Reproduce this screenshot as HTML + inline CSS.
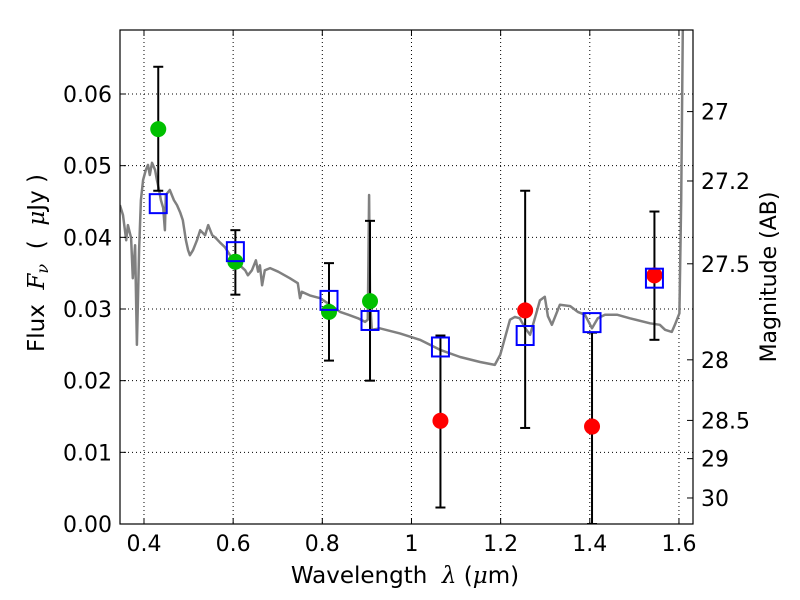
<!DOCTYPE html>
<html><head><meta charset="utf-8"><style>body{margin:0;background:#fff}svg{display:block}text{font-family:"DejaVu Sans","Liberation Sans",sans-serif}</style></head>
<body>
<svg id="c" width="800" height="600"></svg>
<script>
const specLam=[0.346,0.353,0.360,0.364,0.371,0.375,0.380,0.384,0.389,0.393,0.398,0.404,0.409,0.413,0.418,0.425,0.429,0.434,0.438,0.443,0.447,0.449,0.458,0.467,0.474,0.481,0.487,0.494,0.499,0.503,0.510,0.519,0.526,0.537,0.544,0.553,0.561,0.570,0.582,0.593,0.606,0.615,0.627,0.633,0.642,0.651,0.656,0.660,0.665,0.671,0.683,0.701,0.727,0.745,0.750,0.754,0.772,0.795,0.817,0.840,0.858,0.880,0.896,0.902,0.905,0.907,0.911,0.929,0.974,1.019,1.064,1.109,1.154,1.187,1.199,1.221,1.232,1.243,1.255,1.266,1.279,1.288,1.299,1.306,1.315,1.333,1.356,1.373,1.389,1.405,1.418,1.434,1.461,1.490,1.535,1.557,1.569,1.584,1.591,1.601,1.605,1.609];
const specFlux=[0.0445,0.0431,0.0396,0.0417,0.0399,0.0343,0.0389,0.0250,0.0382,0.0452,0.0480,0.0494,0.0501,0.0487,0.0504,0.0494,0.0480,0.0466,0.0452,0.0441,0.0410,0.0459,0.0466,0.0452,0.0445,0.0435,0.0424,0.0396,0.0382,0.0375,0.0382,0.0396,0.0410,0.0403,0.0417,0.0403,0.0399,0.0393,0.0386,0.0375,0.0365,0.0361,0.0354,0.0347,0.0354,0.0368,0.0352,0.0361,0.0333,0.0354,0.0357,0.0352,0.0343,0.0336,0.0315,0.0324,0.0319,0.0315,0.0306,0.0296,0.0292,0.0287,0.0282,0.0285,0.0459,0.0312,0.0271,0.0273,0.0266,0.0257,0.0243,0.0233,0.0226,0.0222,0.0236,0.0285,0.0289,0.0287,0.0273,0.0264,0.0292,0.0312,0.0317,0.0290,0.0278,0.0306,0.0304,0.0296,0.0292,0.0273,0.0287,0.0292,0.0292,0.0287,0.0280,0.0278,0.0271,0.0268,0.0278,0.0294,0.0452,0.0720];
const obsLam=[0.432,0.605,0.815,0.907,1.065,1.255,1.405,1.545];
const obsFlux=[0.0551,0.0366,0.0296,0.0311,0.0144,0.0298,0.0136,0.0347];
const errHi=[0.0638,0.0410,0.0364,0.0423,0.0263,0.0465,0.0267,0.0436];
const errLo=[0.0465,0.0320,0.0228,0.0200,0.0023,0.0134,0.0,0.0257];
const obsColor=["#00c000","#00c000","#00c000","#00c000","#ff0000","#ff0000","#ff0000","#ff0000"];
const modelFlux=[0.0447,0.0380,0.0312,0.0284,0.0247,0.0263,0.0281,0.0343];
const xTicks=[0.4,0.6,0.8,1.0,1.2,1.4,1.6];
const xTickLabels=["0.4","0.6","0.8","1","1.2","1.4","1.6"];
const yTicks=[0,0.01,0.02,0.03,0.04,0.05,0.06];
const yTickLabels=["0.00","0.01","0.02","0.03","0.04","0.05","0.06"];
const magTicks=[27,27.2,27.5,28,28.5,29,30];
const magTickLabels=["27","27.2","27.5","28","28.5","29","30"];

const L=120,R=693,T=30,B=524;
const X0=0.3462,X1=1.6315,Y0=0,Y1=0.06893;
const sx=v=>L+(v-X0)/(X1-X0)*(R-L);
const sy=v=>B-(v-Y0)/(Y1-Y0)*(B-T);
const magToFlux=m=>Math.pow(10,(23.9-m)/2.5);
const svg=document.getElementById('c');
const NS='http://www.w3.org/2000/svg';
function mk(t,a,p){const e=document.createElementNS(NS,t);for(const k in a)e.setAttribute(k,a[k]);(p||svg).appendChild(e);return e;}

const clip=mk('clipPath',{id:'pc'});mk('rect',{x:L,y:T,width:R-L,height:B-T},clip);
xTicks.forEach((v,i)=>{const g=mk('line',{x1:sx(v),x2:sx(v),y1:T,y2:B,stroke:'#000','stroke-width':1,'stroke-dasharray':'1,3'});

});
yTicks.forEach((v,i)=>{const g=mk('line',{x1:L,x2:R,y1:sy(v),y2:sy(v),stroke:'#000','stroke-width':1,'stroke-dasharray':'1,3'});

});
const pts=specLam.map((l,i)=>sx(l).toFixed(1)+','+sy(specFlux[i]).toFixed(1)).join(' ');
const sp=mk('polyline',{points:pts,fill:'none',stroke:'#808080','stroke-width':2.5,'stroke-linejoin':'round','clip-path':'url(#pc)'});


obsLam.forEach((l,i)=>{const x=sx(l);const g=mk('g',{stroke:'#000','stroke-width':2,'clip-path':'url(#pc)'});


mk('line',{x1:x,x2:x,y1:sy(errHi[i]),y2:sy(errLo[i])},g);
mk('line',{x1:x-5,x2:x+5,y1:sy(errHi[i]),y2:sy(errHi[i])},g);
mk('line',{x1:x-5,x2:x+5,y1:sy(errLo[i]),y2:sy(errLo[i])},g);});
obsLam.forEach((l,i)=>{const c=mk('circle',{cx:sx(l),cy:sy(obsFlux[i]),r:8,fill:obsColor[i]});

});
obsLam.forEach((l,i)=>{const s=mk('rect',{x:sx(l)-8.5,y:sy(modelFlux[i])-9.5,width:17,height:19,fill:'none',stroke:'#0000ff','stroke-width':2});

});
const fr=mk('rect',{x:L,y:T,width:R-L,height:B-T,fill:'none',stroke:'#000','stroke-width':1.2});


xTicks.forEach((v,i)=>{const x=sx(v);mk('line',{x1:x,x2:x,y1:B,y2:B-6,stroke:'#000'});mk('line',{x1:x,x2:x,y1:T,y2:T+6,stroke:'#000'});
const t=mk('text',{x:x,y:B+27,'font-size':22,'text-anchor':'middle'});t.textContent=xTickLabels[i];

});
yTicks.forEach((v,i)=>{const y=sy(v);mk('line',{x1:L,x2:L+6,y1:y,y2:y,stroke:'#000'});
const t=mk('text',{x:L-8,y:y+8,'font-size':22,'text-anchor':'end'});t.textContent=yTickLabels[i];

});
magTicks.forEach((m,i)=>{const y=sy(magToFlux(m));mk('line',{x1:R-6,x2:R,y1:y,y2:y,stroke:'#000'});
const t=mk('text',{x:R+8,y:y+8,'font-size':22});t.textContent=magTickLabels[i];

});
</script>
<svg width="800" height="600" style="position:absolute;left:0;top:0">
<text x="405" y="583" font-size="23" text-anchor="middle" font-family="DejaVu Sans, sans-serif">Wavelength&#160;&#160;<tspan font-family="DejaVu Serif, serif" font-style="italic">λ</tspan> (<tspan font-family="DejaVu Serif, serif" font-style="italic">μ</tspan>m)</text>
<text transform="translate(44,263) rotate(-90)" font-size="23" text-anchor="middle" font-family="DejaVu Sans, sans-serif">Flux&#160;&#160;<tspan font-family="DejaVu Serif, serif" font-style="italic">F</tspan><tspan font-family="DejaVu Serif, serif" font-style="italic" font-size="16" dy="4">ν</tspan><tspan dy="-4">&#160;&#160;(&#160;&#160;</tspan><tspan font-family="DejaVu Serif, serif" font-style="italic">μ</tspan>Jy )</text>
<text transform="translate(776,277) rotate(-90)" font-size="22" text-anchor="middle" font-family="DejaVu Sans, sans-serif">Magnitude (AB)</text>
</svg>
</body></html>
